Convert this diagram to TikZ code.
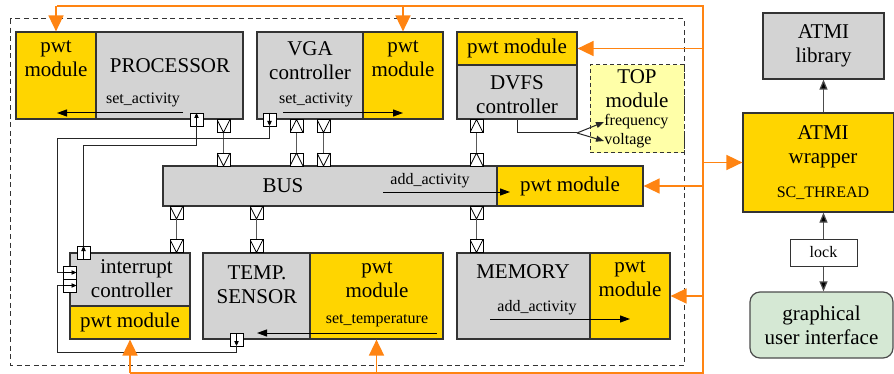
\documentclass[tikz,border=0pt]{standalone}
\usepackage{fontspec}
\setmainfont{Liberation Serif}
\usetikzlibrary{arrows.meta}

\definecolor{boxgray}{HTML}{D3D3D3}
\definecolor{pwtyellow}{HTML}{FFD500}
\definecolor{linkorange}{HTML}{FF8412}
\definecolor{topyellow}{HTML}{FFFFA8}
\definecolor{guigreen}{HTML}{D5E8D4}
\definecolor{edgegray}{HTML}{333333}

\tikzset{
  blk/.style={draw=edgegray, line width=0.6pt, inner sep=0, font=\fontsize{10.5}{12}\selectfont, align=center},
  gblk/.style={blk, fill=boxgray},
  yblk/.style={blk, fill=pwtyellow},
  lbl/.style={font=\fontsize{10.5}{12}\selectfont, align=center, inner sep=0},
  slbl/.style={font=\fontsize{8}{9.5}\selectfont, inner sep=0},
  port/.style={draw=black, fill=white, line width=0.4pt, minimum size=6.5pt, inner sep=0},
  tdown/.style={port, path picture={\draw[line width=0.4pt] (path picture bounding box.north west) -- (path picture bounding box.south) -- (path picture bounding box.north east);}},
  tup/.style={port, path picture={\draw[line width=0.4pt] (path picture bounding box.south west) -- (path picture bounding box.north) -- (path picture bounding box.south east);}},
  aup/.style={port, path picture={\draw[line width=0.4pt, -{Triangle[length=2.5pt,width=2.2pt]}] (path picture bounding box.south) -- (path picture bounding box.north);}},
  adown/.style={port, path picture={\draw[line width=0.4pt, -{Triangle[length=2.5pt,width=2.2pt]}] (path picture bounding box.north) -- (path picture bounding box.south);}},
  aright/.style={port, path picture={\draw[line width=0.4pt, -{Triangle[length=2.5pt,width=2.2pt]}] (path picture bounding box.west) -- (path picture bounding box.east);}},
  wire/.style={draw=black!85, line width=0.5pt},
  bwire/.style={draw=black!65, line width=0.7pt},
  arr/.style={draw=black, line width=0.5pt, -{Triangle[length=5pt,width=3.5pt]}},
  garr/.style={draw=black!70, line width=0.6pt, -{Triangle[length=5pt,width=4pt, fill=black]}},
  owire/.style={draw=linkorange, line width=0.8pt},
  oarr/.style={owire, -{Triangle[length=8pt,width=7.5pt]}}
}

\begin{document}
\begin{tikzpicture}[x=0.5pt, y=-0.5pt]
\useasboundingbox (0,0) rectangle (894,374);

% platform
\draw[edgegray, line width=0.5pt, dash pattern=on 2.5pt off 1.8pt] (10,19) rectangle (684,365);

% processor
\node[yblk, minimum width=40pt, minimum height=43.5pt] (procpwt) at (56,75.5) {};
\node[gblk, minimum width=73.5pt, minimum height=43.5pt] (proc) at (169.5,75.5) {};
\node[lbl] (procpwttxt) at (56,59) {pwt\\module};
\node[lbl] (proctxt) at (170,66) {PROCESSOR};
\node[slbl] (procact) at (143,100) {set\_activity};
\draw[arr] (183,113) -- (57,113);

% vga
\node[gblk, minimum width=53pt, minimum height=43.5pt] (vga) at (310,75.5) {};
\node[yblk, minimum width=40pt, minimum height=43.5pt] (vgapwt) at (403,75.5) {};
\node[lbl] (vgatxt) at (310,61) {VGA\\controller};
\node[lbl] (vgapwttxt) at (403,59) {pwt\\module};
\node[slbl] (vgaact) at (316,100) {set\_activity};
\draw[arr] (283,113) -- (403,113);

% dvfs
\node[yblk, minimum width=60pt, minimum height=16.5pt] (dvfspwt) at (517,48.5) {pwt module};
\node[gblk, minimum width=60pt, minimum height=27pt] (dvfs) at (517,92) {};
\node[lbl] (dvfstxt) at (517,95) {DVFS\\controller};

% top module
\node[draw=edgegray, fill=topyellow, line width=0.5pt, dash pattern=on 2pt off 1.5pt, minimum width=47pt, minimum height=44pt] (top) at (637,109) {};
\node[lbl] (toptxt) at (637,89) {TOP\\module};
\node[slbl, anchor=west] (freq) at (604,122) {frequency};
\node[slbl, anchor=west] (volt) at (604,141) {voltage};
\coordinate (fork) at (577,133);
\draw[wire] (dvfs.south) |- (fork);
\draw[wire, -{Triangle[length=4pt,width=3pt]}] (fork) -- (freq.west);
\draw[wire, -{Triangle[length=4pt,width=3pt]}] (fork) -- (volt.west);

% bus
\node[gblk, minimum width=167pt, minimum height=20pt] (bus) at (330,186) {};
\node[yblk, minimum width=73pt, minimum height=20pt] (buspwt) at (570,186) {pwt module};
\node[lbl] (bustxt) at (283,186) {BUS};
\node[slbl] (busact) at (430,181) {add\_activity};
\draw[arr] (383,192) -- (510,192);

% interrupt controller
\node[gblk, minimum width=60pt, minimum height=26.5pt] (intc) at (130,279.5) {};
\node[yblk, minimum width=60pt, minimum height=16.5pt] (intpwt) at (130,322.5) {pwt module};
\node[lbl, align=right, anchor=east] (intctxt) at (173,279) {interrupt\\controller};

% temperature sensor
\node[gblk, minimum width=53.5pt, minimum height=43pt] (temp) at (256.5,296) {};
\node[yblk, minimum width=66.5pt, minimum height=43pt] (temppwt) at (376.5,296) {};
\node[lbl] (temptxt) at (257,285) {TEMP.\\SENSOR};
\node[lbl] (temppwttxt) at (377,280) {pwt\\module};
\node[slbl] (tempset) at (377,321) {set\_temperature};
\draw[arr] (437,333) -- (257,333);

% memory
\node[gblk, minimum width=66.5pt, minimum height=43pt] (mem) at (523.5,296) {};
\node[yblk, minimum width=40pt, minimum height=43pt] (mempwt) at (630,296) {};
\node[lbl] (memtxt) at (523,272) {MEMORY};
\node[lbl] (mempwttxt) at (630,279) {pwt\\module};
\node[slbl] (memact) at (537,308) {add\_activity};
\draw[arr] (490,319) -- (630,319);

% ports
\node[aup] (p1) at (196.5,119.5) {};
\node[tdown] (p2) at (223.5,126) {};
\node[adown] (v1) at (269.5,119.5) {};
\node[tup] (v2) at (296.5,126) {};
\node[tdown] (v3) at (323.5,126) {};
\node[tup] (d1) at (476.5,126) {};
\node[tdown] (b1) at (223.5,159.5) {};
\node[tup] (b2) at (296.5,159.5) {};
\node[tdown] (b3) at (323.5,159.5) {};
\node[tup] (b4) at (476.5,159.5) {};
\node[tdown] (b5) at (176.5,212.5) {};
\node[tdown] (b6) at (256.5,212.5) {};
\node[tdown] (b7) at (476.5,212.5) {};
\node[tdown] (i1) at (176.5,246) {};
\node[tdown] (t1) at (256.5,246) {};
\node[tdown] (m1) at (476.5,246) {};
\node[aup] (i2) at (83.5,252.5) {};
\node[aright] (i3) at (70,272.5) {};
\node[aright] (i4) at (70,285.5) {};
\node[adown] (t2) at (236.5,339.5) {};

\foreach \a/\b in {p2/b1,v2/b2,v3/b3,d1/b4,b5/i1,b6/t1,b7/m1}
{
    \draw[bwire] (\a.south) -- (\b.north);
}

% interrupt lines
\draw[wire] (p1.south) |- (83.5,146) -- (i2.north);
\draw[wire] (v1.south) |- (57,139) |- (i3.west);
\draw[wire] (t2.south) |- (57,352.5) |- (i4.west);

% atmi side
\node[gblk, minimum width=60.5pt, minimum height=33pt] (lib) at (823.5,46) {ATMI\\library};
\node[yblk, minimum width=75.5pt, minimum height=49.5pt] (wrap) at (818.5,162.5) {};
\node[lbl] (wraptxt) at (823,147) {ATMI\\wrapper};
\node[slbl] (wrapthr) at (823,193) {SC\_THREAD};
\node[draw=edgegray, fill=white, line width=0.5pt, minimum width=33.5pt, minimum height=13.5pt, inner sep=0, font=\fontsize{8}{9.5}\selectfont] (lock) at (823.5,252.5) {lock};
\node[blk, draw=black!70, fill=guigreen, rounded corners=5pt, minimum width=71.5pt, minimum height=33pt] (gui) at (821.5,325) {graphical\\user interface};
\draw[garr] (lib.south |- wrap.north) -- (lib.south);
\draw[garr] (lock.north) -- (lock.north |- wrap.south);
\draw[garr] (lock.south) -- (lock.south |- gui.north);

% power lines
\coordinate (railtl) at (57,6);
\coordinate (railtr) at (703,6);
\coordinate (railbr) at (703,373);
\coordinate (railbl) at (130,373);
\draw[owire] (railtl) -- (railtr) -- (railbr) -- (railbl);
\draw[oarr] (railtl -| procpwt.north) -- (procpwt.north);
\draw[oarr] (railtl -| vgapwt.north) -- (vgapwt.north);
\draw[oarr] (railtr |- dvfspwt.east) -- (dvfspwt.east);
\draw[oarr] (railtr |- buspwt.east) -- (buspwt.east);
\draw[oarr] (railtr |- mempwt.east) -- (mempwt.east);
\draw[oarr] (railtr |- wrap.west) -- (wrap.west);
\draw[oarr] (railbl -| intpwt.south) -- (intpwt.south);
\draw[oarr] (railbl -| temppwt.south) -- (temppwt.south);

\end{tikzpicture}
\end{document}
